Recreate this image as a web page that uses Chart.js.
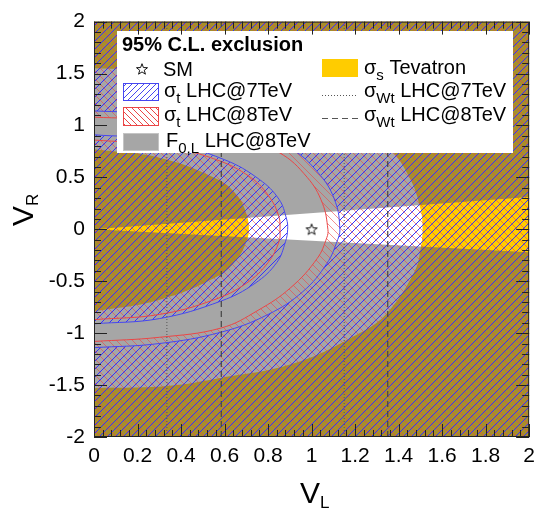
<!DOCTYPE html>
<html>
<head>
<meta charset="utf-8">
<script src="https://cdn.jsdelivr.net/npm/chart.js@4.4.1/dist/chart.umd.min.js"></script>
<style>
  html, body { margin: 0; padding: 0; background: #fff; }
  #wrap { width: 542px; height: 510px; }
</style>
</head>
<body>
<div id="wrap"><canvas id="c" width="542" height="510"></canvas></div>
<script>
'use strict';

// axis ranges
const vlRange = [0, 2];
const vrRange = [-2, 2];

// contours, as [V_L, V_R]
const tevInner = [[0,0.77],[0.3,0.69],[0.57,0.48],[0.66,0.32],[0.70,0.15],[0.712,0],[0.70,-0.12],[0.66,-0.28],[0.57,-0.45],[0.3,-0.68],[0,-0.79]];
const tevOuter = [[0,1.55],[0.335,1.52],[0.585,1.44],[0.92,1.29],[1.22,1.0],[1.35,0.8],[1.45,0.5],[1.5,0.2],[1.51,0],[1.5,-0.2],[1.475,-0.4],[1.35,-0.8],[1.22,-1.0],[0.92,-1.29],[0.585,-1.43],[0.335,-1.51],[0,-1.53]];
const blueIn = [[0,0.91],[0.3,0.86],[0.6,0.67],[0.76,0.48],[0.85,0.29],[0.885,0.1],[0.89,0],[0.88,-0.12],[0.84,-0.32],[0.74,-0.52],[0.585,-0.69],[0.3,-0.86],[0,-0.91]];
const blueOut = [[0,1.14],[0.3,1.11],[0.6,1.01],[0.9,0.78],[1.04,0.52],[1.11,0.26],[1.13,0],[1.12,-0.1],[1.07,-0.33],[0.96,-0.6],[0.8,-0.82],[0.585,-0.99],[0.3,-1.1],[0,-1.14]];
const redIn = [[0,0.86],[0.3,0.81],[0.55,0.68],[0.72,0.5],[0.81,0.3],[0.85,0.12],[0.855,0],[0.85,-0.12],[0.8,-0.32],[0.7,-0.52],[0.55,-0.68],[0.3,-0.82],[0,-0.87]];
const redOut = [[0,1.08],[0.3,1.05],[0.6,0.95],[0.85,0.74],[0.98,0.5],[1.05,0.25],[1.075,0],[1.07,-0.08],[1.026,-0.28],[0.905,-0.56],[0.754,-0.78],[0.585,-0.95],[0.3,-1.04],[0,-1.08]];
// F0,L allowed wedge edges
const f0lTop = [[0,0],[2,0.31]];
const f0lBot = [[0,0],[2,-0.22]];
// sigma_Wt limits on V_L
const wt7 = [0.335, 1.15];
const wt8 = [0.585, 1.35];
const smPoint = [1, 0];

// gray is translucent so it turns the yellow olive where both overlap
const YELLOW = '#ffcc00', GRAY_FILL = 'rgba(84,84,84,0.52)', GRAY = '#a6a6a6';
const BLUE = '#4646f0', RED = '#eb4646';
const BLUE_HATCH = 'rgba(50,50,255,1)', RED_HATCH = 'rgba(235,70,70,0.6)';

const canvas = document.getElementById('c');
const ctx0 = canvas.getContext('2d');

function hatch(color, dir, step){
  const t = document.createElement('canvas');
  t.width = step; t.height = step;
  const g = t.getContext('2d');
  g.fillStyle = color;
  for(let i = 0; i < step; i++) g.fillRect(i, dir > 0 ? step - 1 - i : i, 1, 1);
  return ctx0.createPattern(t, 'repeat');
}
const bluePat = hatch(BLUE_HATCH, 1, 8);
const redPat = hatch(RED_HATCH, -1, 8);
const blueKey = hatch(BLUE, 1, 6);
const redKey = hatch(RED, -1, 6);

function makeStar(){
  const s = document.createElement('canvas');
  s.width = 14; s.height = 14;
  const g = s.getContext('2d');
  g.beginPath();
  for(let i = 0; i < 10; i++){
    const r = i % 2 ? 2.4 : 5.8;
    const a = -Math.PI/2 + i*Math.PI/5;
    g.lineTo(7 + r*Math.cos(a), 7.5 + r*Math.sin(a));
  }
  g.closePath();
  g.strokeStyle = '#111'; g.lineWidth = 1;
  g.stroke();
  return s;
}
const starImg = makeStar();

const xy = pts => pts.map(([x, y]) => ({x, y}));
// everything outside a closed contour, within the frame
function outside(curve){
  const last = curve[curve.length - 1];
  return xy([...curve, last, [vlRange[0], vrRange[0]], [vlRange[1], vrRange[0]], [vlRange[1], vrRange[1]], [vlRange[0], vrRange[1]]]);
}
const f0lRegion = xy([[vlRange[0], vrRange[1]], [vlRange[1], vrRange[1]], f0lTop[1], f0lTop[0], f0lBot[1], [vlRange[1], vrRange[0]], [vlRange[0], vrRange[0]]]);
const vline = v => xy([[v, vrRange[0]], [v, vrRange[1]]]);

function area(data, color, order, extra){
  return Object.assign({data, backgroundColor: color, borderWidth: 0, fill: 'shape', pointRadius: 0, tension: 0.4, order}, extra || {});
}
function edge(data, color, order){
  return {data, borderColor: color, borderWidth: 1, fill: false, pointRadius: 0, tension: 0.4, order};
}

const datasets = [
  area(xy(tevInner), YELLOW, 20),
  area(outside(tevOuter), YELLOW, 19),
  area(f0lRegion, GRAY_FILL, 18, {tension: 0}),
  area(xy(blueIn), bluePat, 17),
  area(outside(blueOut), bluePat, 16),
  area(xy(redIn), redPat, 15),
  area(outside(redOut), redPat, 14),
  edge(xy(blueIn), BLUE, 10),
  edge(xy(blueOut), BLUE, 9),
  edge(xy(redIn), RED, 8),
  edge(xy(redOut), RED, 7),
  ...wt7.map(v => ({data: vline(v), borderColor: '#555', borderWidth: 1, borderDash: [1, 2], pointRadius: 0, fill: false, order: 5})),
  ...wt8.map(v => ({data: vline(v), borderColor: '#444', borderWidth: 1.2, borderDash: [6, 4], pointRadius: 0, fill: false, order: 4})),
  {data: xy([smPoint]), pointStyle: starImg, pointRadius: 6, showLine: false, order: 1}
];

function label(ctx, x, y, parts){
  for(const [t, sub] of parts){
    ctx.font = sub ? '15px "Liberation Sans"' : '20px "Liberation Sans"';
    ctx.fillText(t, x, sub ? y + 6 : y);
    x += ctx.measureText(t).width;
  }
}
function box(ctx, x, y, w, h, fill, stroke){
  ctx.fillStyle = '#fff'; ctx.fillRect(x, y, w, h);
  ctx.fillStyle = fill; ctx.fillRect(x, y, w, h);
  ctx.strokeStyle = stroke; ctx.lineWidth = 1;
  ctx.strokeRect(x + 0.5, y + 0.5, w - 1, h - 1);
}

const framePlugin = {
  id: 'frame',
  afterDatasetsDraw(chart){
    const ctx = chart.ctx;
    const {left, right, top, bottom} = chart.chartArea;
    const xs = chart.scales.x, ys = chart.scales.y;
    ctx.save();
    // legend
    ctx.fillStyle = '#fff';
    ctx.fillRect(117, 31, 396, 122);
    ctx.fillStyle = '#000';
    ctx.textBaseline = 'alphabetic';
    ctx.font = 'bold 20px "Liberation Sans"';
    ctx.fillText('95% C.L. exclusion', 122, 51);
    ctx.drawImage(starImg, 135, 62);
    ctx.fillStyle = '#000';
    label(ctx, 163, 76, [['SM']]);
    box(ctx, 123, 83, 36, 18, blueKey, BLUE);
    ctx.fillStyle = '#000';
    label(ctx, 164, 97, [['σ'], ['t', 1], [' LHC@7TeV']]);
    box(ctx, 123, 107, 36, 19, redKey, RED);
    ctx.fillStyle = '#000';
    label(ctx, 164, 121, [['σ'], ['t', 1], [' LHC@8TeV']]);
    box(ctx, 123, 133, 36, 18, GRAY, '#c4c4c4');
    ctx.fillStyle = '#000';
    label(ctx, 166, 147, [['F'], ['0,L', 1], [' LHC@8TeV']]);
    box(ctx, 322, 59, 36, 18, YELLOW, YELLOW);
    ctx.fillStyle = '#000';
    label(ctx, 364, 74, [['σ'], ['s', 1], [' Tevatron']]);
    ctx.strokeStyle = '#555'; ctx.lineWidth = 1;
    ctx.setLineDash([1, 2]);
    ctx.beginPath(); ctx.moveTo(322, 95.5); ctx.lineTo(356, 95.5); ctx.stroke();
    ctx.setLineDash([6, 4]);
    ctx.beginPath(); ctx.moveTo(322, 118.5); ctx.lineTo(358, 118.5); ctx.stroke();
    ctx.setLineDash([]);
    label(ctx, 364, 97, [['σ'], ['Wt', 1], [' LHC@7TeV']]);
    label(ctx, 364, 121, [['σ'], ['Wt', 1], [' LHC@8TeV']]);
    // frame and inward ticks
    ctx.strokeStyle = '#222'; ctx.lineWidth = 1;
    ctx.strokeRect(left + 0.5, top + 0.5, right - left - 1, bottom - top - 1);
    ctx.beginPath();
    for(let i = 0; i <= 50; i++){
      const px = Math.round(xs.getPixelForValue(vlRange[0] + i*0.04)) + 0.5;
      const L = i % 5 === 0 ? 13 : 7;
      ctx.moveTo(px, bottom); ctx.lineTo(px, bottom - L);
      ctx.moveTo(px, top); ctx.lineTo(px, top + L);
    }
    for(let i = 0; i <= 40; i++){
      const py = Math.round(ys.getPixelForValue(vrRange[0] + i*0.1)) + 0.5;
      const L = i % 5 === 0 ? 13 : 7;
      ctx.moveTo(left, py); ctx.lineTo(left + L, py);
      ctx.moveTo(right, py); ctx.lineTo(right - L, py);
    }
    ctx.stroke();
    ctx.restore();
  },
  afterDraw(chart){
    const ctx = chart.ctx;
    ctx.save();
    ctx.fillStyle = '#000';
    ctx.textBaseline = 'alphabetic';
    ctx.font = '30px "Liberation Sans"';
    ctx.fillText('V', 300, 503);
    ctx.font = '17px "Liberation Sans"';
    ctx.fillText('L', 320, 508);
    ctx.translate(33, 226);
    ctx.rotate(-Math.PI/2);
    ctx.font = '30px "Liberation Sans"';
    ctx.fillText('V', 0, 0);
    ctx.font = '17px "Liberation Sans"';
    ctx.fillText('R', 20, 5);
    ctx.restore();
  }
};

const fmt = v => String(Math.round(v*10)/10);
const tickFont = {family: 'Liberation Sans', size: 21};

new Chart(canvas, {
  type: 'line',
  data: {datasets},
  options: {
    responsive: false,
    animation: false,
    events: [],
    layout: {padding: {top: 15, right: 6, left: 0, bottom: 0}},
    plugins: {legend: {display: false}, tooltip: {enabled: false}},
    scales: {
      x: {
        type: 'linear', min: vlRange[0], max: vlRange[1],
        afterFit: s => { s.height = 73; },
        grid: {display: false, drawTicks: false}, border: {display: false},
        ticks: {stepSize: 0.2, autoSkip: false, maxRotation: 0, padding: 7, color: '#000', font: tickFont, callback: fmt}
      },
      y: {
        type: 'linear', min: vrRange[0], max: vrRange[1],
        afterFit: s => { s.width = 94; },
        grid: {display: false, drawTicks: false}, border: {display: false},
        ticks: {stepSize: 0.5, autoSkip: false, padding: 9, color: '#000', font: tickFont, callback: fmt}
      }
    }
  },
  plugins: [framePlugin]
});
</script>
</body>
</html>
